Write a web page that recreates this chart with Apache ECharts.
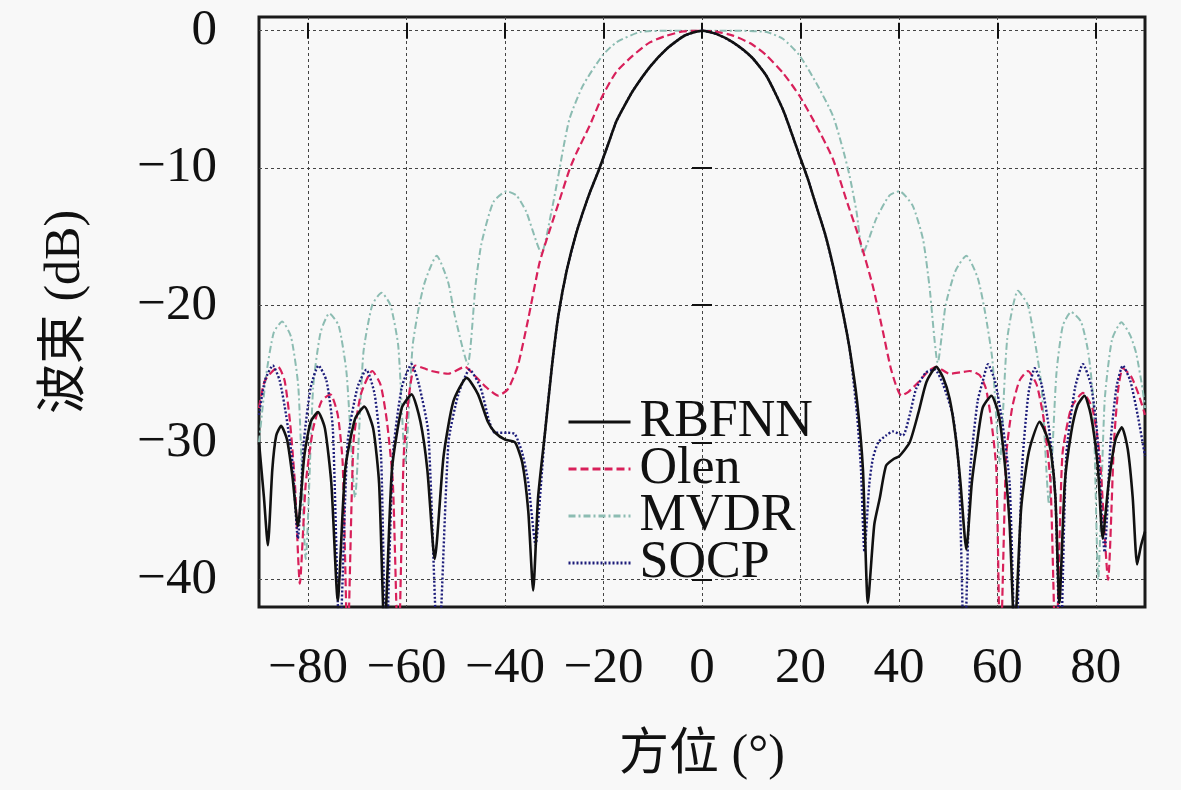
<!DOCTYPE html>
<html lang="zh">
<head>
<meta charset="UTF-8">
<title>波束图</title>
<script src="https://cdn.jsdelivr.net/npm/echarts@6/dist/echarts.min.js"></script>
</head>
<body style="margin:0;background:#f8f8f8">
<div id="container" style="width:1181px;height:790px"></div>
<script>
var seriesNames = ['RBFNN', 'Olen', 'MVDR', 'SOCP'];
var xTicks = [-80, -60, -40, -20, 0, 20, 40, 60, 80];
var yTicks = [-40, -30, -20, -10, 0];

// RBFNN (solid black)
var rbfAng = [-90, -89, -88.2, -87.3, -86.5, -85.5, -84.3, -83.2, -82.1, -80.8, -79.5, -78, -76.6, -75.3, -74,
    -72.5, -70.5, -68.6, -66.8, -65.6, -64.5, -63, -61, -59, -57.2, -55.8, -54.3, -52.5, -50.5, -47.8,
    -45.5, -43.5, -42, -40, -38, -36.5, -35.3, -34.3, -33.3, -31.9, -30.5, -29.2, -27.5, -25.5, -23,
    -20.8, -19, -17.4, -15.5, -14, -10.5, -7.2, -3.5, 0, 3, 6.3, 10, 13.1, 16.5, 19.8, 21.5, 23.2, 25, 26.6,
    28.6, 30, 31.5, 32.7, 33.7, 35, 36.1, 37.4, 39, 40.1, 42.2, 44, 45.6, 47.6, 49, 50.3, 51.5, 52.5,
    53.7, 54.8, 55.7, 57, 58.8, 60.3, 61.5, 62.5, 63.5, 64.8, 66, 66.9, 68.6, 70, 70.9, 71.8, 72.6,
    73.7, 75, 76.3, 77.7, 79, 80.4, 81.4, 82.6, 84, 85.3, 86.5, 87.5, 88.4, 89.2, 90];
var rbfDb = [-30, -34, -37.5, -32, -29.5, -28.8, -29.8, -32.5, -36.1, -31, -28.5, -27.8, -29, -33, -41.5,
    -32, -28.3, -27.4, -29, -33, -44, -32, -27.5, -26.5, -28.5, -32, -38.5, -31, -27, -25.3,
    -26.5, -28.5, -29.3, -29.8, -30, -31.5, -35, -40.8, -34, -29.3, -24.5, -20.8, -17.5, -14.7, -12,
    -10, -8.2, -6.6, -5.3, -4.35, -2.6, -1.33, -0.35, 0, -0.25, -0.85, -1.9, -3.3, -5.8, -9.1, -10.8, -12.75, -14.8, -17.1,
    -20.5, -23.2, -27, -32, -41.7, -36, -34.1, -31.7, -31.2, -31, -30, -27.8, -25.6, -24.5, -25.3, -26.8, -29.5, -32.9,
    -37.8, -33, -30.5, -27.5, -26.6, -28, -31.5, -36, -44, -35, -31.5, -30, -28.5, -29.5, -30.7, -34, -41.7,
    -33, -29.3, -27.3, -26.6, -28, -31.7, -37, -33, -29.8, -28.9, -30.5, -34, -38.9, -37.5, -36.5];

// Olen (red dashed)
var olenAng = [-90, -88.8, -86.1, -84.8, -83.7, -82.7, -81.7, -80.5, -79, -77.3, -75.5, -74, -73, -72,
    -70.8, -69.3, -67, -65.3, -64, -62.8, -61.7, -60.6, -59.5, -58.3, -56.5, -55, -51.6, -48.2, -46,
    -44.1, -41.4, -39.4, -37.4, -35.3, -33, -30.9, -28.9, -26.9, -25.5, -22.8, -20.2, -17.4, -14,
    -10.6, -7.2, -3.8, 0, 3, 6.3, 10, 13.1, 16.5, 19.8, 23.2, 26.6, 29.3, 32, 34.7, 36.8, 38.5, 40.5,
    42, 44, 46, 47.6, 50.3, 52.5, 54.4, 56.4, 57.7, 58.8, 59.8, 60.6, 61.8, 63, 64.5, 66.2, 68, 69.5,
    70.8, 71.9, 73.2, 75, 77.4, 79.3, 80.8, 82.5, 83.7, 84.6, 85.5, 87.2, 88.7, 90];
var olenDb = [-27.5, -25.5, -24.5, -25.5, -28.5, -33, -40.3, -33, -29, -27, -26.5, -28, -31.5, -45,
    -30, -26.5, -24.8, -25.8, -28.5, -33, -46, -31, -26.5, -24.4, -24.6, -24.8, -25, -24.5, -25.2,
    -25.9, -26.6, -26.1, -24.4, -21, -16.9, -14.5, -12.3, -10.1, -8.9, -6.9, -4.74, -3, -1.8,
    -0.85, -0.36, -0.05, 0, -0.08, -0.36, -0.95, -1.8, -3.1, -4.74, -6.9, -9.35, -12.3, -15.2, -18.6, -22, -24.8, -26.6,
    -26.3, -25.6, -24.8, -24.5, -25, -24.9, -24.8, -25.1, -26.1, -28.5, -32, -46, -31, -27.5, -25.5, -24.8, -25.8, -28.5,
    -33, -46, -31, -27.5, -26.4, -27.5, -31, -40, -30, -26, -24.6, -25.2, -26.5, -28];

// MVDR (cyan dash-dot)
var mvdrAng = [-90, -88.5, -87, -85.3, -83.5, -82, -80.5, -79, -77.5, -75.7, -73.8, -72.2, -70.5, -68.8,
    -67, -65.1, -63.3, -61.7, -60.3, -58.8, -57.6, -56.3, -53.9, -51.6, -50.2, -47.6, -46, -44.8, -42.4,
    -39.7, -37.7, -35.7, -32.6, -30.6, -29.2, -28.2, -26.9, -24.2, -20.2, -17.4, -12.6, -6, 0, 6.3,
    13.1, 16.5, 19.8, 23.2, 26.6, 28.6, 30, 31.4, 32.7, 35.4, 38.1, 40.1, 42.8, 44.9, 46.2, 47.9, 49.5,
    51.5, 53.7, 56, 57.5, 59, 60.5, 62, 64.2, 66.2, 67.8, 69, 70.5, 72, 73.3, 75, 77, 78.5, 79.5, 80.5,
    81.8, 83.3, 85.2, 87, 88.2, 89.5, 90];
var mvdrDb = [-30, -25, -22, -21.2, -22.3, -26, -38.5, -26, -22, -20.6, -21.5, -25, -34, -23.5,
    -20, -19.1, -20, -23, -31.5, -23, -20.3, -18.3, -16.4, -18.3, -20.8, -24.3, -18.5, -15.5, -12.5,
    -11.7, -12, -13.2, -16.2, -13.2, -10.6, -8.6, -6.4, -4, -1.8, -0.85, -0.1, 0, 0, 0,
    -0.1, -0.6, -1.8, -3.8, -6.2, -8.6, -10.6, -13.2, -16.2, -13.7, -12, -11.7, -12.75, -15.2, -18.6, -24.2, -20,
    -17.5, -16.4, -18, -20.5, -24, -31.5, -22.5, -18.95, -20, -23, -26, -34.5, -25, -21.5, -20.5, -21.2, -23.5, -27, -40,
    -27, -22.5, -21.25, -22.2, -23.5, -26.1, -27.5];

// SOCP (blue dotted)
var socpAng = [-90, -88.8, -87.2, -85.8, -84.5, -83.2, -82.1, -80.9, -79.5, -77.9, -76.3, -75, -73.6, -72,
    -70, -68.2, -66.5, -65.2, -64.2, -62.8, -61, -59, -57.5, -55.6, -53.6, -51.5, -49.5, -47.2, -45,
    -43.2, -42.1, -39.4, -38, -36.5, -35.3, -33.8, -32.7, -31.9, -30.5, -29.2, -27.5, -25.5, -23,
    -20.8, -19, -17.4, -15.5, -14, -10.5, -7.2, -3.5, 0, 3, 6.3, 10, 13.1, 16.5, 19.8, 21.5, 23.2, 25, 26.6,
    28.6, 30, 31.5, 32.3, 33, 34, 34.7, 35.8, 37.4, 38.8, 40.8, 42.2, 43.5, 45.5, 47.3, 49, 51, 52.2,
    53.3, 54.5, 56, 57, 58.1, 59.5, 61, 62.5, 63.7, 65, 66.3, 67.6, 69, 70.5, 71.8, 72.8, 74, 75.8,
    77.4, 79, 80.2, 81.8, 83, 84.2, 85.5, 87, 88.5, 90];
var socpDb = [-28, -25.5, -24.4, -25.5, -28, -31.5, -37, -30, -26, -24.4, -25.5, -29, -45, -30,
    -26, -24.7, -26.5, -31, -46, -31, -26, -24.3, -25.8, -29.3, -46, -30, -26.5, -24.7, -26,
    -28.5, -29.3, -29.3, -29.4, -30.8, -32.9, -37.5, -33, -29.3, -24.5, -20.8, -17.5, -14.7, -12,
    -10, -8.2, -6.6, -5.3, -4.35, -2.6, -1.33, -0.35, 0, -0.25, -0.85, -1.9, -3.3, -5.8, -9.1, -10.8, -12.75, -14.8, -17.1,
    -20.5, -23.2, -28, -32, -38, -33, -31.2, -30, -29.5, -29.2, -29.5, -28, -26.1, -24.9, -24.7, -25.8, -28.1, -32,
    -46, -32, -27, -25.6, -24.3, -25.5, -28.5, -33, -46, -32, -26.5, -24.6, -25.8, -29, -34, -46, -31, -26,
    -24.3, -25.8, -29, -38, -30, -26, -24.4, -25.5, -28, -31];

function zip(a, b) {
    return a.map(function (v, i) { return [v, b[i]]; });
}

function minusFmt(v) {
    return v < 0 ? '\u2212' + (-v) : String(v);
}

var latin = "'Liberation Serif', 'Noto Sans CJK SC', serif";
var gridLine = { type: [3, 3], color: '#444', width: 1 };
var tickStyle = { color: '#111', width: 2 };

var myChart = echarts.init(document.getElementById('container'));

var option = {
    backgroundColor: '#f8f8f8',
    animation: false,
    grid: {
        left: 259, right: 36, top: 17, bottom: 183,
        show: true, borderColor: '#1a1a1a', borderWidth: 3, backgroundColor: 'transparent'
    },
    legend: {
        data: seriesNames,
        orient: 'vertical',
        left: 562,
        top: 391,
        itemWidth: 62,
        itemHeight: 14,
        itemGap: -5,
        itemStyle: { opacity: 0 },
        lineStyle: { width: 3 },
        textStyle: { fontFamily: latin, fontSize: 52, color: '#111', padding: [0, 0, 0, 4] }
    },
    xAxis: [{
        type: 'value', min: -90, max: 90, position: 'bottom',
        name: '方位 (°)', nameLocation: 'middle', nameGap: 124,
        nameTextStyle: { fontFamily: latin, fontSize: 50, color: '#111' },
        axisLine: { show: false },
        axisTick: { inside: true, length: 8, lineStyle: tickStyle, customValues: xTicks },
        axisLabel: { customValues: xTicks, formatter: minusFmt, margin: 36,
            fontFamily: latin, fontSize: 51, color: '#111' },
        splitLine: { show: true, lineStyle: gridLine }
    }, {
        type: 'value', min: -90, max: 90, position: 'top',
        axisLine: { show: false },
        axisTick: { inside: true, length: 8, lineStyle: tickStyle, customValues: xTicks },
        axisLabel: { show: false },
        splitLine: { show: false }
    }],
    yAxis: [{
        type: 'value', min: -42, max: 1, position: 'left',
        name: '波束 (dB)', nameLocation: 'middle', nameGap: 168,
        nameTextStyle: { fontFamily: latin, fontSize: 50, color: '#111' },
        axisLine: { show: false },
        axisTick: { inside: true, length: 10, lineStyle: tickStyle, customValues: yTicks },
        axisLabel: { customValues: yTicks, formatter: minusFmt, margin: 42,
            fontFamily: latin, fontSize: 51, color: '#111' },
        splitLine: { show: true, lineStyle: gridLine }
    }, {
        type: 'value', min: -42, max: 1, position: 'right',
        axisLine: { show: false },
        axisTick: { inside: true, length: 10, lineStyle: tickStyle, customValues: yTicks },
        axisLabel: { show: false },
        splitLine: { show: false }
    }],
    series: [{
        name: 'RBFNN', type: 'line', symbol: 'none', smooth: 0.2, z: 5,
        lineStyle: { color: '#111', width: 2.6, type: 'solid' },
        itemStyle: { color: '#111' },
        data: zip(rbfAng, rbfDb)
    }, {
        name: 'Olen', type: 'line', symbol: 'none', smooth: 0.2, z: 3,
        lineStyle: { color: '#d8205a', width: 2.2, type: [8, 4] },
        itemStyle: { color: '#d8205a' },
        data: zip(olenAng, olenDb)
    }, {
        name: 'MVDR', type: 'line', symbol: 'none', smooth: 0.2, z: 2,
        lineStyle: { color: '#8cbcb2', width: 2, type: [7, 3, 2, 3] },
        itemStyle: { color: '#8cbcb2' },
        data: zip(mvdrAng, mvdrDb)
    }, {
        name: 'SOCP', type: 'line', symbol: 'none', smooth: 0.2, z: 4,
        lineStyle: { color: '#1c1c7a', width: 2.4, type: [2, 2] },
        itemStyle: { color: '#1c1c7a' },
        data: zip(socpAng, socpDb)
    }]
};

myChart.setOption(option);
</script>
</body>
</html>
